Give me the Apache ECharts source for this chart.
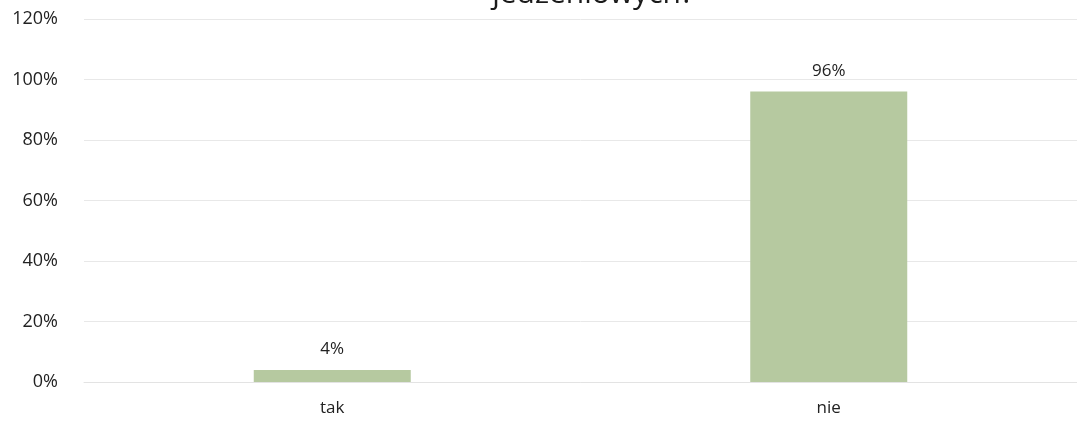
<!DOCTYPE html>
<html>
<head>
<meta charset="utf-8">
<script src="https://cdn.jsdelivr.net/npm/echarts@6/dist/echarts.min.js"></script>
<style>
html, body { margin: 0; padding: 0; background: #fff; }
#chart { width: 1077px; height: 427px; }
</style>
</head>
<body>
<div id="chart"></div>
<script>
var categories = ["tak", "nie"];
var values = [4, 96];
var titleText = "jedzeniowych?";

var myChart = echarts.init(document.getElementById("chart"));
myChart.setOption({
    animation: false,
    textStyle: { fontFamily: "Open Sans" },
    title: {
        text: titleText,
        left: 588,
        textAlign: "center",
        top: -26,
        textStyle: { fontSize: 30, fontWeight: "normal", color: "#1a1a1a", fontFamily: "Open Sans" }
    },
    grid: { left: 84, right: 0, top: 19, bottom: 45 },
    xAxis: {
        type: "category",
        data: categories,
        axisLine: { lineStyle: { color: "#e3e3e3" } },
        axisTick: { show: false },
        axisLabel: { color: "#222", fontSize: 17, margin: 18 }
    },
    yAxis: {
        type: "value",
        min: 0,
        max: 120,
        interval: 20,
        axisLabel: { formatter: "{value}%", color: "#222", fontSize: 18, margin: 26 },
        splitLine: { lineStyle: { color: "#e8e8e8" } },
        axisLine: { show: false },
        axisTick: { show: false }
    },
    series: [{
        type: "bar",
        data: values,
        barWidth: 157,
        itemStyle: { color: "#b6c9a0" },
        label: {
            show: true,
            position: "top",
            formatter: "{c}%",
            color: "#222",
            fontSize: 17,
            distance: 12
        }
    }]
});
</script>
</body>
</html>
